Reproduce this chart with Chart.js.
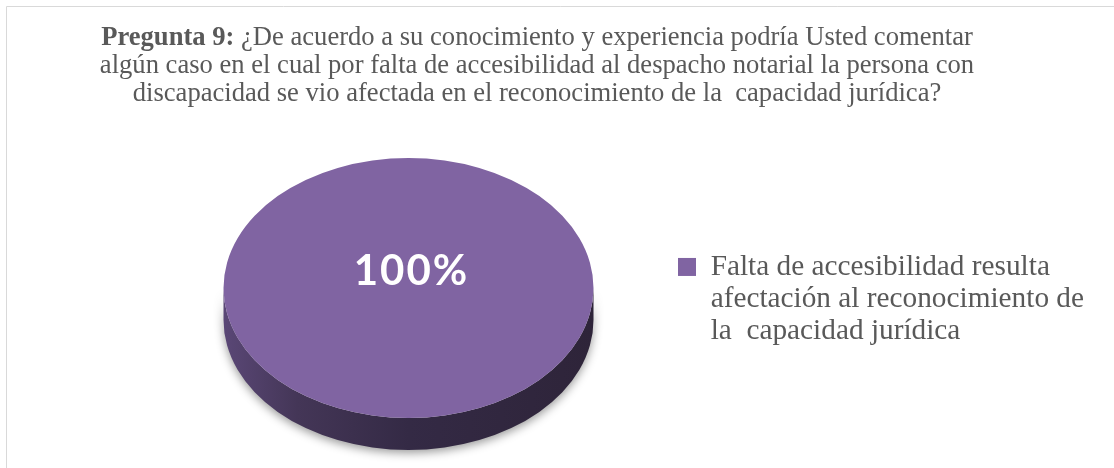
<!DOCTYPE html>
<html>
<head>
<meta charset="utf-8">
<script src="https://cdn.jsdelivr.net/npm/chart.js@4.4.0/dist/chart.umd.min.js"></script>
<style>
html,body{margin:0;padding:0;background:#fff;overflow:hidden}
#wrap{position:relative;width:1114px;height:468px}
</style>
</head>
<body>
<div id="wrap"><canvas id="c" width="1114" height="468"></canvas></div>
<script>
// ---- data ----
const titleBold = "Pregunta 9:";
const titleLines = [
  " ¿De acuerdo a su conocimiento y experiencia podría Usted comentar",
  "algún caso en el cual por falta de accesibilidad al despacho notarial la persona con",
  "discapacidad se vio afectada en el reconocimiento de la  capacidad jurídica?"
];
const categories = [
  ["Falta de accesibilidad resulta", "afectación al reconocimiento de", "la  capacidad jurídica"]
];
const values = [100];
const sliceColors = ["#8064A2"];

// ---- style constants ----
const TEXT_COLOR = "#595959";
const SERIF = '"Liberation Serif", "Times New Roman", serif';
const TILT = 130 / 185;   // vertical squash of the pie
const DEPTH = 32;         // thickness of the 3D side in px

const frame = {
  id: 'frame',
  beforeDraw(chart) {
    const ctx = chart.ctx;
    ctx.save();
    ctx.strokeStyle = '#d9d9d9';
    ctx.lineWidth = 1;
    ctx.beginPath();
    ctx.moveTo(6.5, chart.height);
    ctx.lineTo(6.5, 6.5);
    ctx.lineTo(chart.width, 6.5);
    ctx.stroke();
    ctx.restore();
  }
};

const mixedTitle = {
  id: 'mixedTitle',
  afterDraw(chart) {
    const ctx = chart.ctx;
    const fs = 26.6;
    const bold = `bold ${fs}px ${SERIF}`;
    const norm = `${fs}px ${SERIF}`;
    const cx = 537;
    ctx.save();
    ctx.fillStyle = TEXT_COLOR;
    ctx.textBaseline = 'alphabetic';
    ctx.font = bold; const wb = ctx.measureText(titleBold).width;
    ctx.font = norm; const wn = ctx.measureText(titleLines[0]).width;
    const x0 = cx - (wb + wn) / 2;
    ctx.textAlign = 'left';
    ctx.font = bold; ctx.fillText(titleBold, x0, 45);
    ctx.font = norm; ctx.fillText(titleLines[0], x0 + wb, 45);
    ctx.textAlign = 'center';
    ctx.fillText(titleLines[1], cx, 73);
    ctx.fillText(titleLines[2], cx, 100.5);
    ctx.restore();
  }
};

const pie3d = {
  id: 'pie3d',
  beforeDatasetsDraw(chart) {
    const arc = chart.getDatasetMeta(0).data[0];
    const {x, y, outerRadius: r} = arc.getProps(['x', 'y', 'outerRadius'], true);
    const ctx = chart.ctx;
    ctx.save();
    ctx.translate(x, y); ctx.scale(1, TILT); ctx.translate(-x, -y);
    const d = DEPTH / TILT;
    ctx.save();
    ctx.beginPath();
    ctx.moveTo(x + r, y);
    ctx.lineTo(x + r, y + d);
    ctx.arc(x, y + d, r, 0, Math.PI, false);
    ctx.lineTo(x - r, y);
    ctx.arc(x, y, r, Math.PI, 0, true);
    ctx.closePath();
    const g = ctx.createLinearGradient(x - r, 0, x + r, 0);
    g.addColorStop(0, '#5a4776');
    g.addColorStop(0.2, '#443657');
    g.addColorStop(0.5, '#342a45');
    g.addColorStop(1, '#2e2439');
    ctx.fillStyle = g;
    ctx.shadowColor = 'rgba(0,0,0,0.4)';
    ctx.shadowBlur = 10;
    ctx.shadowOffsetY = 3;
    ctx.fill();
    ctx.restore();
  },
  afterDatasetsDraw(chart) {
    const ctx = chart.ctx;
    ctx.restore();
    const arc = chart.getDatasetMeta(0).data[0];
    const {x, y} = arc.getProps(['x', 'y'], true);
    const total = values.reduce((a, b) => a + b, 0);
    const label = Math.round(values[0] / total * 100) + '%';
    ctx.save();
    ctx.fillStyle = '#ffffff';
    ctx.font = 'bold 42px Lato, "Open Sans", sans-serif';
    ctx.letterSpacing = '2px';
    ctx.textAlign = 'center';
    ctx.textBaseline = 'middle';
    ctx.fillText(label, x + 3, y - 16.5);
    ctx.restore();
  }
};

new Chart(document.getElementById('c'), {
  type: 'pie',
  data: {
    labels: categories,
    datasets: [{
      data: values,
      backgroundColor: sliceColors,
      borderWidth: 0,
      radius: 185,
      clip: false
    }]
  },
  options: {
    responsive: false,
    animation: false,
    events: [],
    layout: { padding: { left: 149, right: 20, top: 217, bottom: 109 } },
    plugins: {
      legend: {
        position: 'right',
        align: 'end',
        labels: {
          boxWidth: 18,
          boxHeight: 18,
          padding: 10,
          color: TEXT_COLOR,
          font: { family: SERIF, size: 29.3, lineHeight: 1.1 }
        }
      },
      title: { display: false },
      tooltip: { enabled: false }
    }
  },
  plugins: [frame, pie3d, mixedTitle]
});
</script>
</body>
</html>
